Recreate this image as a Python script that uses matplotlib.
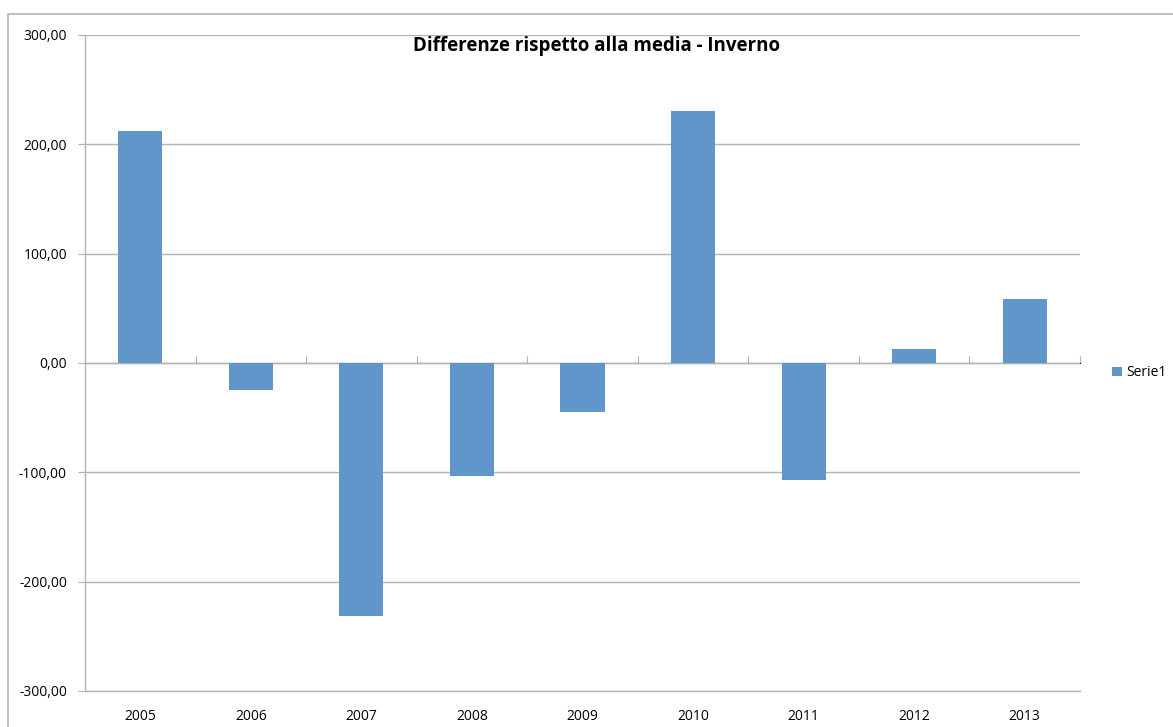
import numpy as np
import matplotlib.pyplot as plt
from matplotlib.patches import Rectangle

plt.rcParams['font.family'] = ['Open Sans', 'DejaVu Sans']

years = ['2005', '2006', '2007', '2008', '2009', '2010', '2011', '2012', '2013']
values = [212.0, -24.7, -231.5, -103.4, -44.8, 230.5, -107.0, 12.8, 58.6]

W, H = 1173, 727
fig = plt.figure(figsize=(W / 100, H / 100), dpi=100)
ax = fig.add_axes([85 / W, 36 / H, 995 / W, 656 / H])

# outer chart frame
fig.patches.append(Rectangle((8 / W, -0.1), 1.2, (H - 14) / H + 0.1,
                             transform=fig.transFigure, fill=False,
                             edgecolor='#b3b3b3', linewidth=1.2))

x = np.arange(len(years))
bars = ax.bar(x, values, width=0.4, color='#6096CA', label='Serie1', zorder=3)

ax.set_xlim(-0.5, len(years) - 0.5)
ax.set_ylim(-300, 300)
ax.set_yticks(np.arange(-300, 301, 100))
ax.set_yticklabels([f'{v:.2f}'.replace('.', ',') for v in np.arange(-300, 301, 100)])
ax.set_xticks(x)
ax.set_xticklabels(years)

ax.grid(axis='y', color='#b3b3b3', linewidth=1.0, zorder=0)
ax.set_axisbelow(True)
for side in ['top', 'right']:
    ax.spines[side].set_visible(False)
for side in ['left', 'bottom']:
    ax.spines[side].set_color('#b3b3b3')
    ax.spines[side].set_linewidth(1.0)

ax.tick_params(axis='y', length=5, color='#b3b3b3', pad=8, labelsize=10)
ax.tick_params(axis='x', length=0, pad=13, labelsize=10)

# category tick marks on the zero line
sec = ax.secondary_xaxis(0.5)
sec.set_xticks(np.arange(0.5, len(years) - 0.4, 1.0))
sec.set_xticklabels([])
sec.spines['bottom'].set_visible(False)
sec.tick_params(length=5, color='#b3b3b3', direction='out')

fig.text(597 / W, 1 - 46 / H, 'Differenze rispetto alla media - Inverno',
         ha='center', va='center', fontsize=13.5, fontweight='bold')

ax.legend(loc='center left', bbox_to_anchor=(1.02, 0.485), frameon=False,
          fontsize=10, handlelength=0.7, handleheight=0.7, handletextpad=0.3)

fig.savefig('out.png', dpi=100)
